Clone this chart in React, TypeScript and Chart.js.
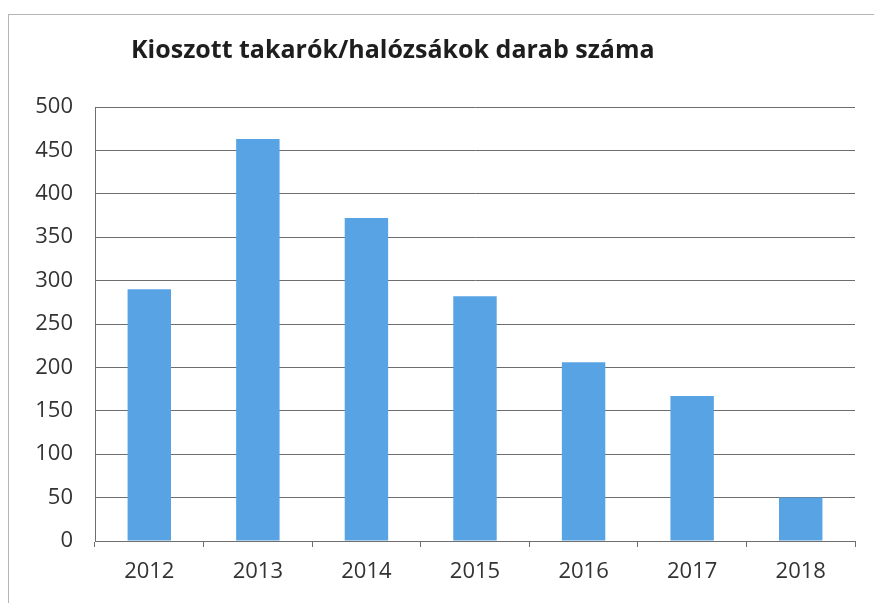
import React, { useEffect, useRef } from "react";
import { Chart, registerables } from "chart.js";

Chart.register(...registerables);

const TITLE = "Kioszott takarók/halózsákok darab száma";
const CATEGORIES = ["2012", "2013", "2014", "2015", "2016", "2017", "2018"];
const VALUES = [290, 463, 372, 282, 206, 167, 50];
const Y_MIN = 0;
const Y_MAX = 500;
const Y_STEP = 50;

const BAR_COLOR = "#58a3e4";
const GRID_COLOR = "#6e6e6e";
const TEXT_COLOR = "#333333";
const FONT = "'Open Sans', 'Liberation Sans', sans-serif";

export default function App() {
  const canvasRef = useRef<HTMLCanvasElement | null>(null);

  useEffect(() => {
    if (!canvasRef.current) return;
    const chart = new Chart(canvasRef.current, {
      type: "bar",
      data: {
        labels: CATEGORIES,
        datasets: [
          {
            data: VALUES,
            backgroundColor: BAR_COLOR,
            borderWidth: 0,
            barPercentage: 0.4,
            categoryPercentage: 1,
          },
        ],
      },
      options: {
        responsive: false,
        animation: false,
        layout: { padding: { top: 107, right: 19, bottom: 0, left: 0 } },
        plugins: {
          legend: { display: false },
          title: { display: false },
          tooltip: { enabled: false },
        },
        scales: {
          x: {
            grid: {
              display: true,
              drawOnChartArea: false,
              drawTicks: true,
              tickLength: 6,
              color: GRID_COLOR,
              offset: true,
            },
            border: { display: true, color: GRID_COLOR, width: 1 },
            ticks: {
              color: TEXT_COLOR,
              padding: 12,
              font: { family: FONT, size: 22 },
              maxRotation: 0,
            },
            afterFit: (scale: any) => {
              scale.height = 62;
            },
          },
          y: {
            min: Y_MIN,
            max: Y_MAX,
            ticks: {
              stepSize: Y_STEP,
              color: TEXT_COLOR,
              padding: 22,
              font: { family: FONT, size: 22 },
            },
            grid: {
              color: GRID_COLOR,
              lineWidth: 1,
              drawTicks: false,
            },
            border: { display: true, color: GRID_COLOR, width: 1 },
            afterFit: (scale: any) => {
              scale.width = 95;
            },
          },
        },
      },
    });
    return () => chart.destroy();
  }, []);

  return (
    <div
      style={{
        position: "fixed",
        left: 0,
        top: 0,
        width: 874,
        height: 603,
        background: "#ffffff",
        overflow: "hidden",
      }}
    >
      <div
        style={{
          position: "absolute",
          left: 8,
          top: 14,
          right: 0,
          bottom: 0,
          borderTop: "1px solid #b5b5b5",
          borderLeft: "1px solid #b5b5b5",
          pointerEvents: "none",
        }}
      />
      <div
        style={{
          position: "absolute",
          left: 131,
          top: 34,
          fontFamily: FONT,
          fontWeight: 700,
          fontSize: 25,
          lineHeight: "28px",
          color: "#1e1e1e",
          whiteSpace: "nowrap",
        }}
      >
        {TITLE}
      </div>
      <canvas ref={canvasRef} width={874} height={603} style={{ display: "block" }} />
    </div>
  );
}
